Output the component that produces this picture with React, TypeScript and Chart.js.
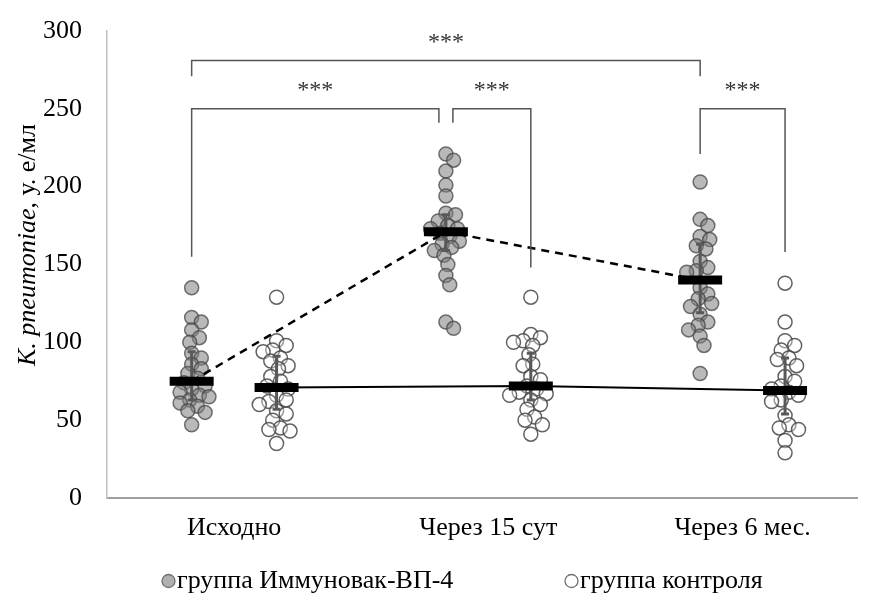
import React, { useEffect, useRef } from 'react';
import { Chart, registerables } from 'chart.js';

Chart.register(...registerables);

// ---------- data ----------
const categories = ['Исходно', 'Через 15 сут', 'Через 6 мес.'];
const yTickValues = [0, 50, 100, 150, 200, 250, 300];
const groupNames = ['группа Иммуновак-ВП-4', 'группа контроля'];
const yTitleItalic = 'K. pneumoniae';
const yTitleRest = ', у. е/мл';

const immunoBaseline = [135, 116, 113, 108, 103, 100, 93, 90, 86, 83, 80, 77, 74, 72, 70, 68, 66, 65, 63, 61, 59, 56, 55, 47];
const immuno15d = [221, 217, 210, 201, 194, 183, 182, 178, 175, 173, 173, 170, 168, 165, 163, 161, 159, 156, 150, 143, 137, 113, 109];
const immuno6m = [203, 179, 175, 168, 166, 162, 160, 152, 148, 146, 145, 135, 131, 128, 125, 123, 118, 113, 111, 108, 104, 98, 80];

const controlBaseline = [129, 101, 98, 95, 94, 90, 88, 85, 83, 78, 75, 72, 70, 66, 63, 62, 60, 56, 54, 50, 45, 44, 43, 35];
const control15d = [129, 105, 103, 101, 100, 98, 92, 86, 85, 78, 76, 72, 70, 68, 67, 66, 63, 60, 57, 52, 50, 47, 41];
const control6m = [138, 113, 101, 98, 95, 90, 89, 85, 78, 75, 72, 70, 68, 66, 63, 62, 53, 47, 45, 44, 37, 29];

const immunoMeans = [75, 171, 140];
const controlMeans = [71, 72, 69];
const immunoErrLow = [63, 159, 119];
const immunoErrHigh = [94, 182, 163];
const controlErrLow = [57, 63, 54];
const controlErrHigh = [91, 93, 90];

// significance brackets (category index, group index: 0 = Иммуновак, 1 = контроль)
const bracketFromCat = [0, 0, 1, 2];
const bracketFromGroup = [0, 0, 0, 0];
const bracketToCat = [2, 1, 1, 2];
const bracketToGroup = [0, 0, 1, 1];
const bracketLevel = [281, 250, 250, 250];
const bracketLegFromEnd = [271, 155, 241, 221];
const bracketLegToEnd = [271, 241, 148, 158];
const bracketLabels = ['***', '***', '***', '***'];

// ---------- layout constants ----------
const X_MIN = -0.5;
const X_MAX = 2.45;
const GROUP_OFFSET = 0.167;
const FONT = '"Liberation Serif", "Times New Roman", serif';
const FONT_SIZE = 26;
const PLOT_W = 780;
const PLOT_H = 473;
const X_PX = PLOT_W / (X_MAX - X_MIN);
const Y_PX = PLOT_H / 300;

const groupX = (cat: number, g: number) => cat + (g === 0 ? -GROUP_OFFSET : GROUP_OFFSET);

// deterministic beeswarm layout
function swarm(values: number[], cat: number, g: number) {
  const base = groupX(cat, g);
  const placed: { x: number; y: number }[] = [];
  const order = values.map((_, i) => i).sort((a, b) => values[b] - values[a]);
  const res: { x: number; y: number }[] = new Array(values.length);
  const STEP = 2;
  const MIN_DIST = 10;
  for (const i of order) {
    const y = values[i] * Y_PX;
    let k = 0;
    let x = 0;
    for (;;) {
      const cand = (k % 2 === 1 ? 1 : -1) * Math.ceil(k / 2) * STEP;
      if (placed.every((p) => Math.hypot(p.x - cand, p.y - y) >= MIN_DIST)) {
        x = cand;
        break;
      }
      k++;
    }
    placed.push({ x, y });
    res[i] = { x: base + x / X_PX, y: values[i] };
  }
  return res;
}

const immunoSets = [immunoBaseline, immuno15d, immuno6m];
const controlSets = [controlBaseline, control15d, control6m];

const IMMUNO_FILL = 'rgba(128,128,128,0.55)';
const IMMUNO_STROKE = 'rgba(70,70,70,0.75)';
const CONTROL_FILL = 'rgba(255,255,255,0.35)';
const CONTROL_STROKE = 'rgba(70,70,70,0.85)';

const errorBarPlugin = {
  id: 'errorBars',
  afterDatasetDraw(chart: any, args: any) {
    if (args.index !== 5) return;
    const { ctx } = chart;
    const xs = chart.scales.x;
    const ys = chart.scales.y;
    ctx.save();
    ctx.strokeStyle = '#595959';
    ctx.lineWidth = 3;
    const groups = [
      [immunoErrLow, immunoErrHigh, 0],
      [controlErrLow, controlErrHigh, 1],
    ] as const;
    for (const [lo, hi, g] of groups) {
      categories.forEach((_, c) => {
        const x = xs.getPixelForValue(groupX(c, g));
        const y1 = ys.getPixelForValue(lo[c]);
        const y2 = ys.getPixelForValue(hi[c]);
        ctx.beginPath();
        ctx.moveTo(x, y1);
        ctx.lineTo(x, y2);
        ctx.moveTo(x - 4, y1);
        ctx.lineTo(x + 4, y1);
        ctx.moveTo(x - 4, y2);
        ctx.lineTo(x + 4, y2);
        ctx.stroke();
      });
    }
    ctx.restore();
  },
};

const annotationPlugin = {
  id: 'annotations',
  afterDraw(chart: any) {
    const { ctx } = chart;
    const xs = chart.scales.x;
    const ys = chart.scales.y;
    ctx.save();
    // brackets
    const key = (c: number, g: number, lvl: number) => `${c}-${g}-${lvl}`;
    const uses: Record<string, number> = {};
    bracketLevel.forEach((lvl, i) => {
      const a = key(bracketFromCat[i], bracketFromGroup[i], lvl);
      const b = key(bracketToCat[i], bracketToGroup[i], lvl);
      uses[a] = (uses[a] || 0) + 1;
      uses[b] = (uses[b] || 0) + 1;
    });
    bracketLevel.forEach((lvl, i) => {
      const shared1 = uses[key(bracketFromCat[i], bracketFromGroup[i], lvl)] > 1;
      const shared2 = uses[key(bracketToCat[i], bracketToGroup[i], lvl)] > 1;
      const x1 = xs.getPixelForValue(groupX(bracketFromCat[i], bracketFromGroup[i])) + (shared1 ? 7 : 0);
      const x2 = xs.getPixelForValue(groupX(bracketToCat[i], bracketToGroup[i])) - (shared2 ? 7 : 0);
      const yl = ys.getPixelForValue(lvl);
      const y1 = ys.getPixelForValue(bracketLegFromEnd[i]);
      const y2 = ys.getPixelForValue(bracketLegToEnd[i]);
      ctx.strokeStyle = '#555';
      ctx.lineWidth = 1.5;
      ctx.beginPath();
      ctx.moveTo(x1, y1);
      ctx.lineTo(x1, yl);
      ctx.lineTo(x2, yl);
      ctx.lineTo(x2, y2);
      ctx.stroke();
      ctx.fillStyle = '#333';
      ctx.font = `24px ${FONT}`;
      ctx.textAlign = 'center';
      ctx.textBaseline = 'alphabetic';
      ctx.fillText(bracketLabels[i], (x1 + x2) / 2, yl - 12);
    });

    // y-axis title
    ctx.save();
    ctx.translate(28, 245);
    ctx.rotate(-Math.PI / 2);
    ctx.fillStyle = '#000';
    ctx.textBaseline = 'middle';
    ctx.textAlign = 'left';
    const fi = `italic ${FONT_SIZE}px ${FONT}`;
    const fn = `${FONT_SIZE}px ${FONT}`;
    ctx.font = fi;
    const w1 = ctx.measureText(yTitleItalic).width;
    ctx.font = fn;
    const w2 = ctx.measureText(yTitleRest).width;
    const sx = -(w1 + w2) / 2;
    ctx.font = fi;
    ctx.fillText(yTitleItalic, sx, 0);
    ctx.font = fn;
    ctx.fillText(yTitleRest, sx + w1, 0);
    ctx.restore();

    // legend
    const legendStarts = [162, 565];
    const legendY = 581;
    groupNames.forEach((name, i) => {
      const x0 = legendStarts[i];
      ctx.beginPath();
      ctx.arc(x0 + 6.5, legendY, 6.5, 0, Math.PI * 2);
      ctx.fillStyle = i === 0 ? '#b0b0b0' : '#fff';
      ctx.fill();
      ctx.strokeStyle = '#707070';
      ctx.lineWidth = 1.3;
      ctx.stroke();
      ctx.fillStyle = '#000';
      ctx.font = `${FONT_SIZE}px ${FONT}`;
      ctx.textAlign = 'left';
      ctx.textBaseline = 'middle';
      ctx.fillText(name, x0 + 15, legendY);
    });
    ctx.restore();
  },
};

export default function App() {
  const ref = useRef<HTMLCanvasElement | null>(null);

  useEffect(() => {
    document.body.style.margin = '0';
    if (!ref.current) return;
    const immunoPts = immunoSets.flatMap((vals, c) => swarm(vals, c, 0));
    const controlPts = controlSets.flatMap((vals, c) => swarm(vals, c, 1));
    const immunoMeanPts = immunoMeans.map((v, c) => ({ x: groupX(c, 0), y: v }));
    const controlMeanPts = controlMeans.map((v, c) => ({ x: groupX(c, 1), y: v }));

    const chart = new Chart(ref.current, {
      type: 'scatter',
      data: {
        datasets: [
          {
            label: 'mean-immuno',
            data: immunoMeanPts,
            pointStyle: 'line',
            pointRadius: 22,
            pointBorderWidth: 9,
            borderColor: '#000',
            order: 0,
          } as any,
          {
            label: 'mean-control',
            data: controlMeanPts,
            pointStyle: 'line',
            pointRadius: 22,
            pointBorderWidth: 9,
            borderColor: '#000',
            order: 0,
          } as any,
          {
            type: 'line',
            label: 'trend-immuno',
            data: immunoMeanPts,
            showLine: true,
            pointRadius: 0,
            borderColor: '#000',
            borderWidth: 2.5,
            borderDash: [8, 6],
            order: 1,
          } as any,
          {
            type: 'line',
            label: 'trend-control',
            data: controlMeanPts,
            showLine: true,
            pointRadius: 0,
            borderColor: '#000',
            borderWidth: 2,
            order: 1,
          } as any,
          {
            label: groupNames[0],
            data: immunoPts,
            pointRadius: 7,
            pointBorderWidth: 1.5,
            backgroundColor: IMMUNO_FILL,
            borderColor: IMMUNO_STROKE,
            order: 3,
          } as any,
          {
            label: groupNames[1],
            data: controlPts,
            pointRadius: 7,
            pointBorderWidth: 1.5,
            backgroundColor: CONTROL_FILL,
            borderColor: CONTROL_STROKE,
            order: 2,
          } as any,
        ],
      },
      options: {
        animation: false,
        responsive: true,
        maintainAspectRatio: false,
        layout: { padding: { top: 24, right: 1, left: 0, bottom: 0 } },
        plugins: {
          legend: { display: false },
          tooltip: { enabled: false },
        },
        scales: {
          x: {
            type: 'linear',
            min: X_MIN,
            max: X_MAX,
            grid: { display: false, drawTicks: false },
            border: { display: true, color: '#a0a0a0', width: 2 },
            afterBuildTicks: (s: any) => {
              s.ticks = categories.map((_, i) => ({ value: i }));
            },
            afterFit: (s: any) => {
              s.height = 97;
              s.paddingLeft = 0;
              s.paddingRight = 0;
              s.paddingTop = 0;
              s.paddingBottom = 0;
            },
            ticks: {
              callback: (v: any) => categories[v as number] ?? '',
              font: { family: FONT, size: FONT_SIZE },
              color: '#000',
              padding: 15,
              maxRotation: 0,
              autoSkip: false,
            },
          },
          y: {
            type: 'linear',
            min: 0,
            max: 300,
            grid: {
              display: true,
              drawOnChartArea: false,
              drawTicks: true,
              tickLength: 25,
              tickColor: 'rgba(0,0,0,0)',
            },
            border: { display: true, color: '#c0c0c0', width: 1.5 },
            afterBuildTicks: (s: any) => {
              s.ticks = yTickValues.map((v) => ({ value: v }));
            },
            afterFit: (s: any) => {
              s.width = 107;
              s.paddingLeft = 0;
              s.paddingRight = 0;
              s.paddingTop = 0;
              s.paddingBottom = 0;
            },
            ticks: {
              font: { family: FONT, size: FONT_SIZE },
              color: '#000',
              padding: 0,
            },
          },
        },
      },
      plugins: [errorBarPlugin, annotationPlugin],
    });
    return () => chart.destroy();
  }, []);

  return (
    <div style={{ width: 888, height: 595, position: 'relative' }}>
      <canvas ref={ref} />
    </div>
  );
}
